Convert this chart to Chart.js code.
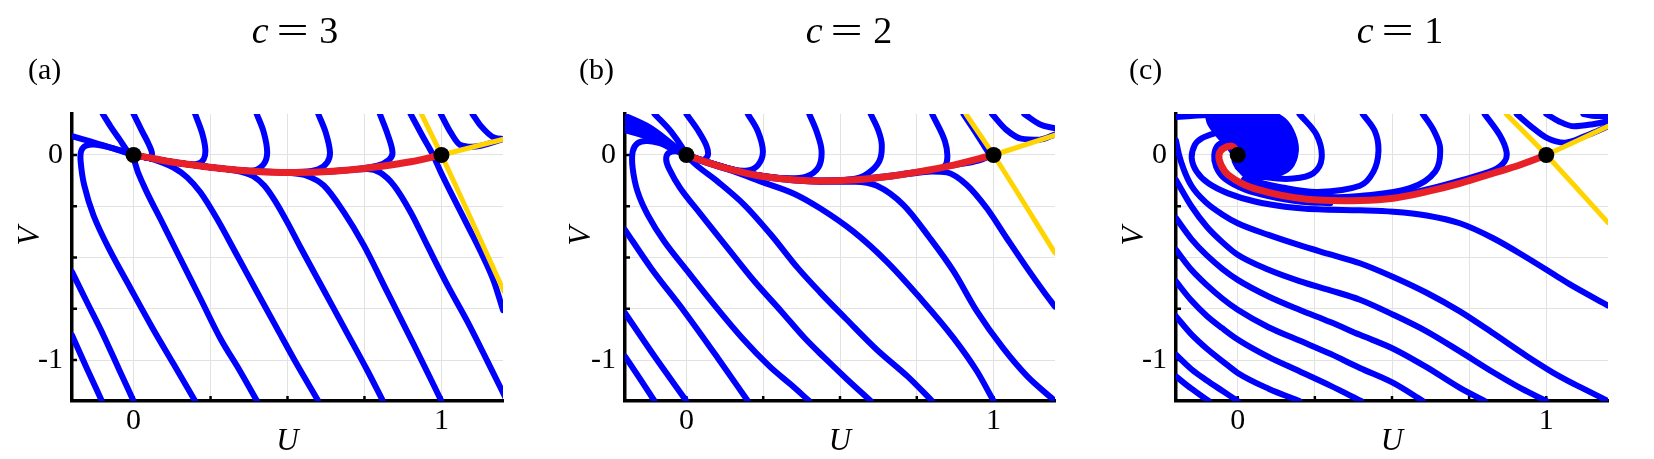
<!DOCTYPE html>
<html>
<head>
<meta charset="utf-8">
<script src="https://cdn.jsdelivr.net/npm/chart.js@4/dist/chart.umd.min.js"></script>
<style>
  body { margin: 0; width: 1654px; height: 459px; overflow: hidden; background: #fff; position: relative; }
  canvas { position: absolute; top: 0; }
  .ttl { position: absolute; top: 11px; transform: translateX(-50%); font: 38px 'Liberation Serif', serif; line-height: 38px; white-space: nowrap; }
  .ttl .eq { display: inline-block; margin: 0 16px 0 13px; transform: scaleX(1.5); }
  .lbl { position: absolute; top: 54px; font: 30px 'Liberation Serif', serif; line-height: 30px; }
  .vlab { position: absolute; top: 236px; font: italic 31px 'Liberation Serif', serif; line-height: 31px;
          transform: translate(-50%, -50%) rotate(-90deg); }
</style>
</head>
<body>
<canvas id="pa" width="520" height="459" style="left:0px"></canvas>
<canvas id="pb" width="540" height="459" style="left:540px"></canvas>
<canvas id="pc" width="564" height="459" style="left:1090px"></canvas>
<script>
// values, as [U, V]
const cValues = [3, 2, 1]
const panelLetters = ['(a)', '(b)', '(c)']
const uTicks = [0, 0.25, 0.5, 0.75, 1]
const vTicks = [-1, -0.75, -0.5, -0.25, 0]
const uLabels = {0: '0', 1: '1'}
const vLabels = {0: '0', '-1': '-1'}
const fixedPoints = [[0, 0], [1, 0]]

// c = 3
const redA = [[0,0],[0.05,-0.013],[0.1,-0.028],[0.2,-0.05],[0.3,-0.068],[0.4,-0.08],[0.5,-0.085],[0.6,-0.083],[0.7,-0.073],[0.8,-0.056],[0.9,-0.033],[1,0]]
const yellowA = [
  [[0.935,0.2],[1,0],[1.204,-0.668]],
  [[1,0],[1.204,0.078]]
]
const blueA = [
  [[-0.1,0.2],[-0.075,0.14],[-0.045,0.075],[-0.02,0.02],[0,0]],
  [[0,0.2],[0.027,0.118],[0.049,0.053],[0.06,0.005],[0.05,-0.012],[0.025,-0.007],[0,0]],
  [[0.2,0.2],[0.222,0.11],[0.233,0.029],[0.228,-0.02],[0.206,-0.044],[0.16,-0.043],[0.1,-0.028],[0.05,-0.013],[0,0]],
  [[0.4,0.2],[0.423,0.11],[0.434,0.013],[0.423,-0.044],[0.39,-0.075],[0.3,-0.068],[0.2,-0.05],[0.1,-0.028],[0,0]],
  [[0.6,0.2],[0.624,0.11],[0.638,0.013],[0.629,-0.036],[0.6,-0.07],[0.55,-0.082],[0.4,-0.08],[0.3,-0.068],[0.2,-0.05],[0.1,-0.028],[0,0]],
  [[0.8,0.2],[0.825,0.102],[0.841,0.013],[0.83,-0.023],[0.792,-0.052],[0.7,-0.073],[0.6,-0.083],[0.5,-0.085],[0.4,-0.08],[0.3,-0.068],[0.2,-0.05],[0.1,-0.028],[0,0]],
  [[0.9,0.2],[0.938,0.094],[0.971,0.005],[0.998,-0.084],[1.041,-0.214],[1.085,-0.344],[1.128,-0.473],[1.171,-0.619],[1.2,-0.757]],
  [[0.998,0.2],[1.03,0.11],[1.06,0.05],[1.1,0.04],[1.2,0.077]],
  [[1.101,0.2],[1.128,0.142],[1.171,0.085],[1.204,0.078]],
  [[-0.2,0.092],[-0.1,0.048],[0,0]],
  [[-0.2,-0.879],[-0.152,-1.04],[-0.103,-1.2]],
  [[-0.2,-0.57],[-0.152,-0.716],[-0.098,-0.879],[-0.049,-1.04],[0,-1.2]],
  [[0,0],[-0.06,0.03],[-0.12,0.05],[-0.155,0.045],[-0.17,0.02],[-0.172,-0.03],[-0.16,-0.149],[-0.13,-0.295],[-0.08,-0.457],[-0.01,-0.65],[0.06,-0.84],[0.13,-1.02],[0.2,-1.2]],
  [[0,0],[0.005,-0.04],[0.033,-0.149],[0.087,-0.311],[0.152,-0.506],[0.217,-0.7],[0.282,-0.895],[0.347,-1.057],[0.401,-1.2]],
  [[0,0],[0.05,-0.015],[0.09,-0.035],[0.13,-0.062],[0.174,-0.109],[0.217,-0.182],[0.271,-0.311],[0.336,-0.489],[0.401,-0.668],[0.466,-0.846],[0.53,-1.02],[0.6,-1.2]],
  [[0,0],[0.1,-0.028],[0.2,-0.05],[0.3,-0.069],[0.35,-0.082],[0.39,-0.105],[0.425,-0.15],[0.46,-0.225],[0.5,-0.33],[0.542,-0.45],[0.618,-0.66],[0.694,-0.87],[0.759,-1.05],[0.81,-1.2]],
  [[0,0],[0.1,-0.028],[0.2,-0.05],[0.3,-0.068],[0.4,-0.08],[0.5,-0.086],[0.56,-0.1],[0.618,-0.149],[0.683,-0.279],[0.748,-0.441],[0.824,-0.668],[0.911,-0.927],[1.0,-1.2]],
  [[0.5,-0.085],[0.6,-0.083],[0.7,-0.073],[0.76,-0.068],[0.8,-0.085],[0.846,-0.149],[0.9,-0.279],[0.954,-0.441],[1.02,-0.636],[1.085,-0.814],[1.15,-1.008],[1.21,-1.19]]
]

// c = 2
const redB = [[0,0],[0.06,-0.032],[0.15,-0.073],[0.23,-0.1],[0.32,-0.117],[0.43,-0.127],[0.54,-0.122],[0.65,-0.106],[0.76,-0.081],[0.87,-0.049],[1,0]]
const yellowB = [
  [[0.91,0.2],[1,0],[1.2,-0.478]],
  [[1,0],[1.2,0.097]]
]
const blueB = [
  [[-0.2,0.192],[-0.115,0.13],[-0.04,0.045],[0,0]],
  [[-0.2,0.168],[-0.11,0.11],[-0.04,0.038],[0,0]],
  [[-0.2,0.145],[-0.11,0.095],[-0.04,0.03],[0,0]],
  [[-0.2,0.122],[-0.115,0.082],[-0.04,0.024],[0,0]],
  [[-0.104,0.2],[-0.05,0.114],[-0.012,0.032],[0,0]],
  [[0,0.2],[0.037,0.122],[0.064,0.049],[0.07,0],[0.053,-0.024],[0.02,-0.01],[0,0]],
  [[0.2,0.2],[0.233,0.114],[0.249,0.016],[0.233,-0.049],[0.2,-0.075],[0.15,-0.07],[0.06,-0.03],[0,0]],
  [[0.4,0.2],[0.425,0.11],[0.44,0.02],[0.43,-0.06],[0.39,-0.105],[0.32,-0.113],[0.23,-0.097],[0.15,-0.07],[0.06,-0.03],[0,0]],
  [[0.6,0.2],[0.625,0.12],[0.636,0.05],[0.628,-0.03],[0.59,-0.09],[0.54,-0.118],[0.43,-0.124],[0.32,-0.114],[0.23,-0.097],[0.15,-0.07],[0.06,-0.03],[0,0]],
  [[0.8,0.2],[0.842,0.065],[0.848,-0.032],[0.826,-0.068],[0.76,-0.08],[0.65,-0.104],[0.54,-0.12],[0.43,-0.125],[0.32,-0.115],[0.23,-0.098],[0.15,-0.071],[0.06,-0.031],[0,0]],
  [[0.902,0.2],[0.94,0.114],[0.978,0.024],[0.985,0],[0.95,-0.028],[0.87,-0.05]],
  [[0.995,0.2],[1.04,0.125],[1.09,0.08],[1.15,0.075],[1.2,0.1]],
  [[1.1,0.2],[1.15,0.15],[1.2,0.13]],
  [[-0.2,-0.982],[-0.152,-1.09],[-0.104,-1.2]],
  [[-0.2,-0.771],[-0.104,-0.982],[0,-1.2]],
  [[-0.2,-0.365],[-0.115,-0.552],[-0.007,-0.763],[0.102,-0.99],[0.2,-1.2]],
  [[0,0],[-0.06,0.045],[-0.126,0.068],[-0.159,0.057],[-0.175,0.016],[-0.175,-0.065],[-0.159,-0.179],[-0.126,-0.292],[-0.072,-0.422],[0.004,-0.568],[0.09,-0.73],[0.18,-0.89],[0.27,-1.03],[0.34,-1.12],[0.4,-1.2]],
  [[0,0],[-0.03,0.018],[-0.058,0.01],[-0.066,-0.02],[-0.057,-0.065],[-0.02,-0.162],[0.048,-0.292],[0.135,-0.455],[0.222,-0.617],[0.309,-0.763],[0.385,-0.893],[0.45,-0.99],[0.52,-1.09],[0.6,-1.2]],
  [[0,0],[0.026,-0.041],[0.102,-0.13],[0.189,-0.244],[0.276,-0.39],[0.363,-0.552],[0.435,-0.67],[0.52,-0.8],[0.62,-0.95],[0.72,-1.08],[0.8,-1.2]],
  [[0,0],[0.06,-0.035],[0.15,-0.078],[0.243,-0.13],[0.352,-0.19],[0.435,-0.26],[0.543,-0.373],[0.652,-0.52],[0.761,-0.698],[0.87,-0.893],[0.946,-1.055],[1.0,-1.2]],
  [[0,0],[0.06,-0.034],[0.15,-0.075],[0.23,-0.102],[0.32,-0.12],[0.43,-0.13],[0.55,-0.13],[0.62,-0.15],[0.707,-0.244],[0.793,-0.406],[0.87,-0.568],[0.946,-0.763],[1.03,-0.94],[1.11,-1.08],[1.2,-1.2]],
  [[0.43,-0.128],[0.54,-0.124],[0.65,-0.108],[0.76,-0.085],[0.8,-0.08],[0.848,-0.085],[0.913,-0.146],[0.978,-0.26],[1.043,-0.406],[1.109,-0.552],[1.163,-0.666],[1.2,-0.74]]
]

// c = 1
const redC = [[0,0],[-0.015,0.041],[-0.047,0.032],[-0.061,0],[-0.054,-0.049],[-0.031,-0.097],[0.023,-0.146],[0.099,-0.182],[0.185,-0.208],[0.26,-0.22],[0.396,-0.222],[0.504,-0.211],[0.612,-0.179],[0.72,-0.138],[0.828,-0.089],[0.914,-0.049],[1,0]]
const yellowC = [
  [[0.87,0.2],[1,0],[1.2,-0.33]],
  [[1,0],[1.2,0.14]]
]
// outline of the dense spiral near (0, 0)
const blobC = [[-0.1,0.2],[0,0.205],[0.1,0.205],[0.15,0.17],[0.18,0.1],[0.19,0.02],[0.17,-0.06],[0.12,-0.1],[0.06,-0.11],[0.015,-0.08],[-0.005,-0.02],[-0.03,0.04],[-0.06,0.09],[-0.09,0.15],[-0.1,0.2]]
const blueC = [
  [[-0.095,0.2],[-0.07,0.13],[-0.04,0.06],[0,0]],
  [[-0.065,0.2],[-0.02,0.13],[0.03,0.06],[0.03,0],[0,0]],
  [[-0.035,0.2],[0.03,0.14],[0.08,0.06],[0.08,-0.02],[0.04,-0.05],[0,0]],
  [[0.03,0.2],[0.1,0.15],[0.15,0.07],[0.165,-0.01],[0.14,-0.07],[0.08,-0.1],[0.02,-0.08],[-0.01,-0.03],[0,0]],
  [[-0.2,0.185],[-0.15,0.19],[-0.1,0.195],[-0.05,0.19],[0.02,0.175],[0.08,0.14],[0.13,0.07],[0.14,-0.01],[0.1,-0.06],[0.04,-0.06],[0,0]],
  [[0.06,0.1],[0.02,0.12],[-0.03,0.12],[-0.074,0.106],[-0.117,0.081],[-0.139,0.049],[-0.149,-0.016],[-0.133,-0.081],[-0.095,-0.138],[-0.031,-0.187],[0.056,-0.227],[0.153,-0.252],[0.26,-0.265],[0.396,-0.27],[0.504,-0.277],[0.612,-0.295],[0.72,-0.333],[0.828,-0.406],[0.936,-0.5],[1.043,-0.6],[1.092,-0.645],[1.2,-0.735]],
  [[0.02,0.06],[-0.031,0.065],[-0.063,0.049],[-0.076,0],[-0.07,-0.057],[-0.043,-0.114],[0.023,-0.168],[0.099,-0.2],[0.207,-0.228],[0.3,-0.235]],
  [[0.2,0.2],[0.256,0.097],[0.272,-0.016],[0.245,-0.089],[0.18,-0.115],[0.1,-0.11],[0.04,-0.085],[0,-0.04]],
  [[0.405,0.2],[0.445,0.114],[0.456,0.016],[0.44,-0.081],[0.396,-0.15],[0.26,-0.18],[0.15,-0.16],[0.045,-0.12],[0,-0.06]],
  [[0.6,0.2],[0.635,0.12],[0.656,0.032],[0.64,-0.081],[0.558,-0.162],[0.396,-0.2],[0.3,-0.205],[0.185,-0.19],[0.1,-0.165],[0.02,-0.12]],
  [[0.8,0.2],[0.849,0.097],[0.871,0.016],[0.865,-0.032],[0.828,-0.075],[0.72,-0.125],[0.612,-0.168],[0.504,-0.2],[0.396,-0.21]],
  [[0.904,0.2],[0.95,0.14],[1.0,0.085],[1.06,0.06],[1.13,0.095],[1.2,0.14]],
  [[1.0,0.2],[1.04,0.165],[1.09,0.14],[1.15,0.15],[1.2,0.165]],
  [[1.12,0.2],[1.16,0.19],[1.2,0.19]],
  [[-0.2,0.07],[-0.19,0],[-0.175,-0.07],[-0.15,-0.15],[-0.1,-0.235],[-0.05,-0.29],[0,-0.333],[0.1,-0.39],[0.2,-0.44],[0.3,-0.485],[0.396,-0.528],[0.504,-0.595],[0.612,-0.672],[0.72,-0.763],[0.828,-0.87],[0.936,-0.98],[1.043,-1.08],[1.12,-1.14],[1.2,-1.2]],
  [[-0.2,-0.122],[-0.15,-0.25],[-0.1,-0.35],[-0.05,-0.425],[0,-0.487],[0.1,-0.56],[0.2,-0.615],[0.3,-0.66],[0.396,-0.706],[0.504,-0.779],[0.612,-0.86],[0.72,-0.958],[0.828,-1.06],[0.92,-1.14],[1.0,-1.2]],
  [[-0.2,-0.308],[-0.15,-0.41],[-0.1,-0.49],[-0.05,-0.555],[0,-0.609],[0.1,-0.69],[0.2,-0.755],[0.3,-0.815],[0.396,-0.877],[0.504,-0.945],[0.612,-1.035],[0.72,-1.136],[0.8,-1.2]],
  [[-0.2,-0.463],[-0.15,-0.56],[-0.1,-0.635],[-0.05,-0.7],[0,-0.755],[0.1,-0.84],[0.2,-0.905],[0.3,-0.97],[0.396,-1.039],[0.504,-1.112],[0.6,-1.2]],
  [[-0.2,-0.617],[-0.15,-0.71],[-0.1,-0.785],[-0.05,-0.845],[0,-0.9],[0.1,-0.985],[0.2,-1.055],[0.3,-1.125],[0.4,-1.2]],
  [[-0.2,-0.787],[-0.15,-0.875],[-0.1,-0.945],[-0.05,-1.005],[0,-1.063],[0.1,-1.14],[0.2,-1.2]],
  [[-0.2,-0.974],[-0.15,-1.045],[-0.1,-1.1],[-0.05,-1.15],[0,-1.2]],
  [[-0.2,-1.08],[-0.15,-1.14],[-0.094,-1.2]]
]

const blueSets = [blueA, blueB, blueC]
const redSets = [redA, redB, redC]
const yellowSets = [yellowA, yellowB, yellowC]
const blobSets = [[], [], [blobC]]

// page layout (pixels)
const layout = [
  {canvas: 'pa', left: 0, width: 520, plotLeft: 72, plotRight: 503, title: 295, letter: 28, vLabel: 28},
  {canvas: 'pb', left: 540, width: 540, plotLeft: 625, plotRight: 1055, title: 849, letter: 579, vLabel: 579},
  {canvas: 'pc', left: 1090, width: 564, plotLeft: 1176, plotRight: 1608, title: 1400, letter: 1129, vLabel: 1132}
]
const plotTop = 114
const plotBottom = 401
const serif = "'Liberation Serif', 'Times New Roman', serif"
const blue = 'rgb(0,0,255)'

// curves running left to right get a monotone spline, hooks and loops a plain tension
function curves(list, color, width, order) {
  return list.map(c => {
    const rising = c.every((pt, k) => k === 0 || pt[0] > c[k - 1][0])
    return {
      data: c.map(([u, v]) => ({x: u, y: v})),
      showLine: true,
      borderColor: color,
      borderWidth: width,
      pointRadius: 0,
      tension: 0.35,
      cubicInterpolationMode: rising ? 'monotone' : 'default',
      borderCapStyle: 'round',
      borderJoinStyle: 'round',
      order: order
    }
  })
}

// small black tick marks drawn inside the axes
const innerTicks = {
  id: 'innerTicks',
  beforeDatasetsDraw(chart) {
    const {ctx, chartArea, scales: {x, y}} = chart
    ctx.save()
    ctx.strokeStyle = '#000'
    ctx.lineWidth = 2.5
    uTicks.forEach(u => {
      const px = x.getPixelForValue(u)
      ctx.beginPath(); ctx.moveTo(px, chartArea.bottom); ctx.lineTo(px, chartArea.bottom - 5); ctx.stroke()
    })
    vTicks.forEach(v => {
      const py = y.getPixelForValue(v)
      ctx.beginPath(); ctx.moveTo(chartArea.left, py); ctx.lineTo(chartArea.left + 5, py); ctx.stroke()
    })
    ctx.restore()
  }
}

layout.forEach((p, i) => {
  const blobs = curves(blobSets[i], blue, 5, 3).map(d => Object.assign(d, {fill: 'shape', backgroundColor: blue}))
  const datasets = [].concat(
    [{
      data: fixedPoints.map(([u, v]) => ({x: u, y: v})),
      pointRadius: 8, pointBackgroundColor: '#000', pointBorderWidth: 0, showLine: false, order: 0
    }],
    curves([redSets[i]], 'rgb(232,32,40)', 7, 1),
    curves(yellowSets[i], 'rgb(255,212,0)', 5, 2),
    curves(blueSets[i], blue, 6, 3),
    blobs
  )

  new Chart(document.getElementById(p.canvas), {
    type: 'scatter',
    data: {datasets: datasets},
    options: {
      responsive: false,
      animation: false,
      layout: {padding: {left: 0, top: plotTop, right: p.left + p.width - p.plotRight, bottom: 0}},
      plugins: {legend: {display: false}, tooltip: {enabled: false}},
      scales: {
        x: {
          type: 'linear', min: -0.2, max: 1.2,
          afterBuildTicks: s => { s.ticks = uTicks.map(v => ({value: v})) },
          afterFit: s => { s.height = 459 - plotBottom },
          grid: {color: '#e2e2e2', lineWidth: 1, drawTicks: false},
          border: {color: '#000', width: 3.5},
          ticks: {
            callback: v => uLabels[v] || '',
            font: {family: serif, size: 30}, color: '#000', padding: 2, maxRotation: 0, autoSkip: false
          },
          title: {display: true, text: 'U', color: '#000', font: {family: serif, size: 31, style: 'italic', lineHeight: 1}, padding: {top: 0, bottom: 2}}
        },
        y: {
          type: 'linear', min: -1.2, max: 0.2,
          afterBuildTicks: s => { s.ticks = vTicks.map(v => ({value: v})) },
          afterFit: s => { s.width = p.plotLeft - p.left },
          grid: {color: '#e2e2e2', lineWidth: 1, drawTicks: false},
          border: {color: '#000', width: 3.5},
          ticks: {
            callback: v => vLabels[v] || '',
            font: {family: serif, size: 30}, color: '#000', padding: 9, autoSkip: false
          }
        }
      }
    },
    plugins: [innerTicks]
  })

  const t = document.createElement('div')
  t.className = 'ttl'
  t.style.left = p.title + 'px'
  t.innerHTML = '<i>c</i><span class="eq">=</span>' + cValues[i]
  document.body.appendChild(t)

  const l = document.createElement('div')
  l.className = 'lbl'
  l.style.left = p.letter + 'px'
  l.textContent = panelLetters[i]
  document.body.appendChild(l)

  const v = document.createElement('div')
  v.className = 'vlab'
  v.style.left = p.vLabel + 'px'
  v.textContent = 'V'
  document.body.appendChild(v)
})
</script>
</body>
</html>
